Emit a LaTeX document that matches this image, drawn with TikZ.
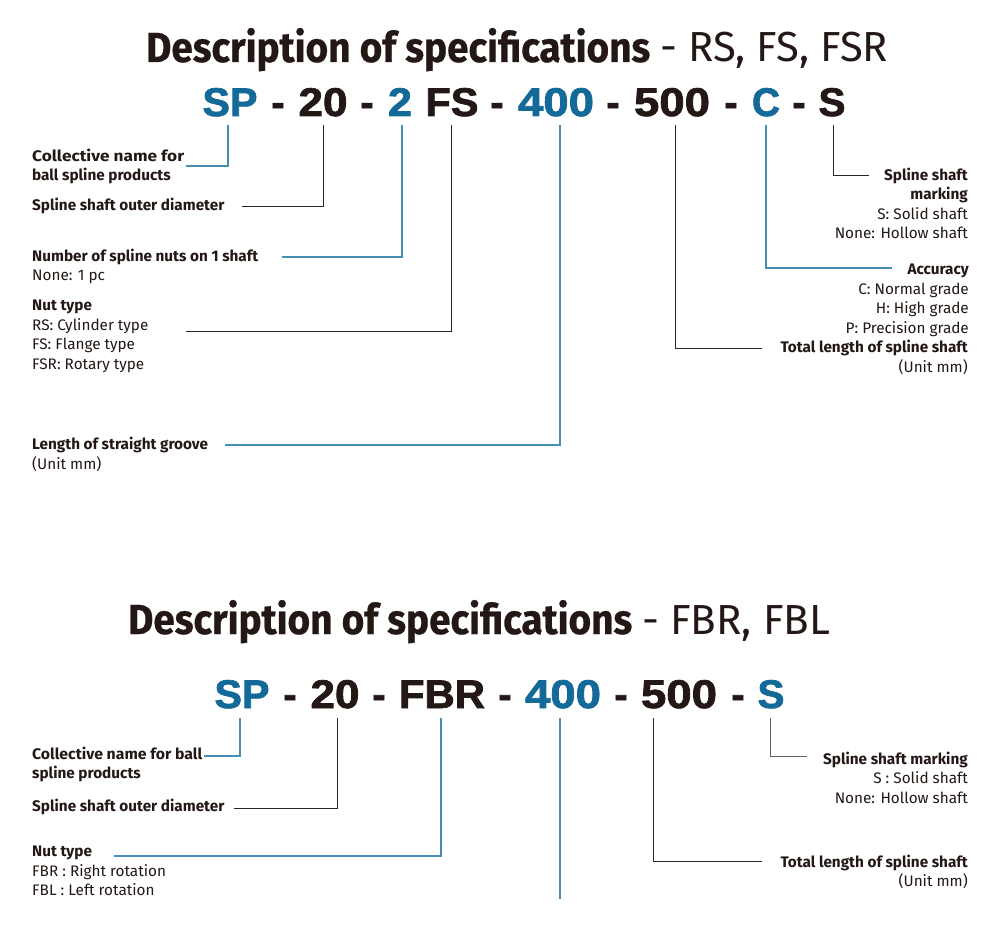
\documentclass[tikz,border=0pt]{standalone}
\usepackage{fontspec}
\usepackage{graphicx}
\setmainfont{Fira Sans}
\newfontfamily\codefont{Liberation Sans}[BoldFeatures={FakeBold=1.8}]
\newfontfamily\ttlfont{Fira Sans}[BoldFeatures={FakeBold=0.6}]
\definecolor{specblue}{RGB}{19,106,153}
\definecolor{lineblue}{RGB}{72,142,180}
\definecolor{ink}{RGB}{35,24,21}
\definecolor{lineink}{RGB}{40,40,40}
\definecolor{linegray}{RGB}{95,95,95}
\newcommand\fitw[2]{\resizebox{#1pt}{\height}{#2}}
\tikzset{
  lbl/.style={inner sep=0pt, text=ink, font=\fontsize{15.3}{18}\selectfont},
  lblb/.style={inner sep=0pt, text=ink, font=\fontsize{15.3}{18}\selectfont\bfseries},
  ttlb/.style={inner sep=0pt, anchor=base west, text=ink, font=\ttlfont\fontsize{42}{42}\selectfont\bfseries},
  ttlr/.style={inner sep=0pt, anchor=base west, text=ink, font=\fontsize{42}{42}\selectfont},
  codetok/.style={inner sep=0pt, anchor=base, text=ink, font=\codefont\bfseries\fontsize{40}{40}\selectfont},
  codeblue/.style={codetok, text=specblue},
  bl/.style={draw=lineblue, line width=1.1pt},
  kl/.style={draw=lineink, line width=1pt},
  gl/.style={draw=linegray, line width=1pt}
}
\begin{document}
\begin{tikzpicture}[x=1pt,y=-1pt]
\fill[white] (0,0) rectangle (1000,928);
\useasboundingbox (0,0) rectangle (1000,928);

% ---------- top title ----------
\node[ttlb] (title1) at (146,62) {\fitw{504}{Description of specifications}};
\node[ttlr] (title1r) at (660,62) {\fitw{228}{- RS, FS, FSR}};

% ---------- top code ----------
\node[codeblue] (tSP) at (230,116) {\fitw{55}{SP}};
\node[codetok] (td1) at (278,116) {-};
\node[codetok] (t20) at (323,116) {\fitw{49}{20}};
\node[codetok] (td2) at (367,116) {-};
\node[codeblue] (t2) at (400,116) {\fitw{24}{2}};
\node[codetok] (tFS) at (452,116) {\fitw{53}{FS}};
\node[codetok] (td3) at (497,116) {-};
\node[codeblue] (t400) at (556,116) {\fitw{76}{400}};
\node[codetok] (td4) at (613,116) {-};
\node[codetok] (t500) at (672,116) {\fitw{76}{500}};
\node[codetok] (td5) at (731,116) {-};
\node[codeblue] (tC) at (766,116) {\fitw{28}{C}};
\node[codetok] (td6) at (799,116) {-};
\node[codetok] (tS) at (832,116) {\fitw{27}{S}};

% ---------- top labels (left) ----------
\node[lblb, anchor=base west] (L1a) at (32,162) {\fitw{152}{Collective name for}};
\node[lblb, anchor=base west] (L1b) at (32,181) {ball spline products};
\node[lblb, anchor=base west] (L2) at (32,210) {Spline shaft outer diameter};
\node[lblb, anchor=base west] (L3a) at (32,261) {Number of spline nuts on 1 shaft};
\node[lbl, anchor=base west] (L3b) at (32,280.5) {None: 1 pc};
\node[lblb, anchor=base west] (L4a) at (32,310.5) {Nut type};
\node[lbl, anchor=base west] (L4b) at (32,330) {RS: Cylinder type};
\node[lbl, anchor=base west] (L4c) at (32,349.5) {FS: Flange type};
\node[lbl, anchor=base west] (L4d) at (32,369) {FSR: Rotary type};
\node[lblb, anchor=base west] (L5a) at (32,449.5) {Length of straight groove};
\node[lbl, anchor=base west] (L5b) at (32,469) {(Unit mm)};

% ---------- top labels (right) ----------
\node[lblb, anchor=base east] (R1a) at (968,180) {Spline shaft};
\node[lblb, anchor=base east] (R1b) at (968,199.5) {marking};
\node[lbl, anchor=base east] (R1c) at (968,219) {S: Solid shaft};
\node[lbl, anchor=base east] (R1d) at (968,238.5) {None: Hollow shaft};
\node[lblb, anchor=base east] (R2a) at (969,274.5) {Accuracy};
\node[lbl, anchor=base east] (R2b) at (969,294) {C: Normal grade};
\node[lbl, anchor=base east] (R2c) at (969,313.5) {H: High grade};
\node[lbl, anchor=base east] (R2d) at (969,333) {P: Precision grade};
\node[lblb, anchor=base east] (R3a) at (968,352.5) {Total length of spline shaft};
\node[lbl, anchor=base east] (R3b) at (968,372) {(Unit mm)};

% ---------- top connectors ----------
\coordinate (cSP) at (228,125);  \coordinate (eSP) at (186,166);
\coordinate (c20) at (323,125);  \coordinate (e20) at (242,206);
\coordinate (c2) at (402,125);   \coordinate (e2) at (282,257);
\coordinate (cFS) at (451,125);  \coordinate (eFS) at (186,331);
\coordinate (c400) at (560,125); \coordinate (e400) at (225,445);
\coordinate (c500) at (675,125); \coordinate (e500) at (762,348);
\coordinate (cC) at (766,125);   \coordinate (eC) at (892,268);
\coordinate (cS) at (833,125);   \coordinate (eS) at (869,176);
\draw[bl] (cSP) |- (eSP);
\draw[kl] (c20) |- (e20);
\draw[bl] (c2) |- (e2);
\draw[kl] (cFS) |- (eFS);
\draw[bl] (c400) |- (e400);
\draw[kl] (c500) |- (e500);
\draw[bl] (cC) |- (eC);
\draw[kl] (cS) |- (eS);

% ---------- bottom title ----------
\node[ttlb] (title2) at (128,634) {\fitw{504}{Description of specifications}};
\node[ttlr] (title2r) at (642,634) {\fitw{188}{- FBR, FBL}};

% ---------- bottom code ----------
\node[codeblue] (bSP) at (242,708) {\fitw{55}{SP}};
\node[codetok] (bd1) at (290,708) {-};
\node[codetok] (b20) at (335,708) {\fitw{49}{20}};
\node[codetok] (bd2) at (379,708) {-};
\node[codetok] (bFBR) at (442,708) {\fitw{86}{FBR}};
\node[codetok] (bd3) at (505,708) {-};
\node[codeblue] (b400) at (563,708) {\fitw{76}{400}};
\node[codetok] (bd4) at (621,708) {-};
\node[codetok] (b500) at (679,708) {\fitw{76}{500}};
\node[codetok] (bd5) at (738,708) {-};
\node[codeblue] (bS) at (771,708) {\fitw{27}{S}};

% ---------- bottom labels ----------
\node[lblb, anchor=base west] (M1a) at (32,759.5) {\fitw{170}{Collective name for ball}};
\node[lblb, anchor=base west] (M1b) at (32,778) {spline products};
\node[lblb, anchor=base west] (M2) at (32,811) {Spline shaft outer diameter};
\node[lblb, anchor=base west] (M3a) at (32,856) {Nut type};
\node[lbl, anchor=base west] (M3b) at (32,876.5) {FBR : Right rotation};
\node[lbl, anchor=base west] (M3c) at (32,895.5) {FBL : Left rotation};
\node[lblb, anchor=base east] (N1a) at (968,764) {Spline shaft marking};
\node[lbl, anchor=base east] (N1b) at (968,783) {S : Solid shaft};
\node[lbl, anchor=base east] (N1c) at (968,803) {None: Hollow shaft};
\node[lblb, anchor=base east] (N2a) at (968,867.5) {Total length of spline shaft};
\node[lbl, anchor=base east] (N2b) at (968,886.5) {(Unit mm)};

% ---------- bottom connectors ----------
\coordinate (dSP) at (240,718);  \coordinate (fSP) at (204,756);
\coordinate (d20) at (337,718);  \coordinate (f20) at (234,808);
\coordinate (dFBR) at (441,718); \coordinate (fFBR) at (114,856);
\coordinate (d400) at (560,718); \coordinate (f400) at (560,899);
\coordinate (d500) at (653,718); \coordinate (f500) at (762,861);
\coordinate (dS) at (770,718);   \coordinate (fS) at (807,756);
\draw[bl] (dSP) |- (fSP);
\draw[kl] (d20) |- (f20);
\draw[bl] (dFBR) |- (fFBR);
\draw[bl] (d400) -- (f400);
\draw[kl] (d500) |- (f500);
\draw[gl] (dS) |- (fS);
\end{tikzpicture}
\end{document}
